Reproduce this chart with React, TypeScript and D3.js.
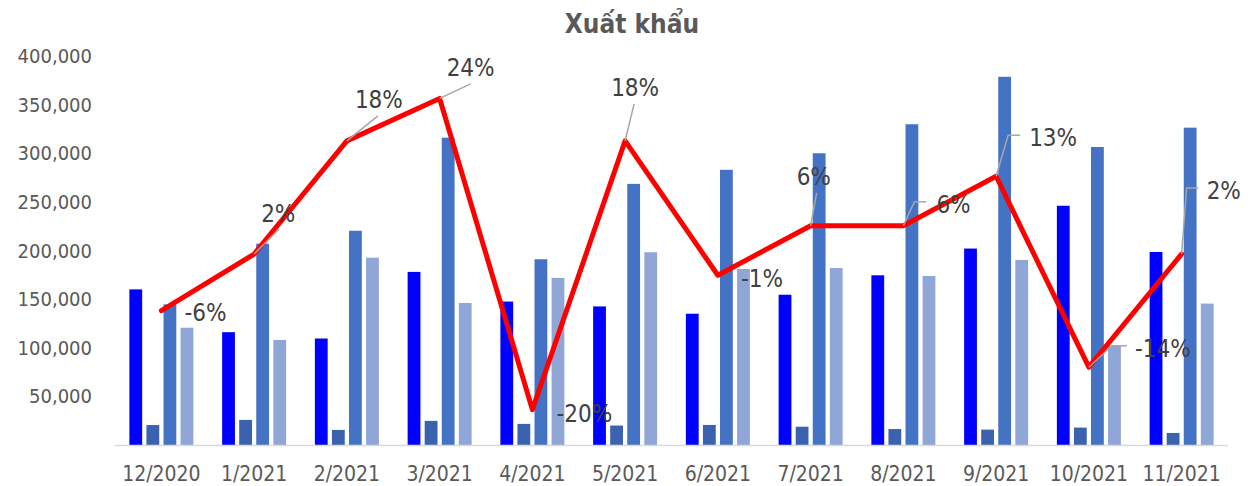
import React from "react";
import * as d3 from "d3";

const categories = ["12/2020", "1/2021", "2/2021", "3/2021", "4/2021", "5/2021", "6/2021", "7/2021", "8/2021", "9/2021", "10/2021", "11/2021"];
const seriesA = [160000, 116000, 109500, 178000, 147500, 142500, 135000, 154500, 174500, 202000, 246000, 198500];
const seriesB = [20500, 25800, 15500, 24800, 21700, 20000, 20600, 18800, 16400, 15800, 17900, 12400];
const seriesC = [144600, 207000, 220300, 316000, 191000, 268500, 283000, 300000, 329800, 378600, 306400, 326300];
const seriesD = [120600, 108000, 192600, 146000, 171800, 198200, 181000, 182000, 173800, 190300, 101800, 145400];
const growth = [-6, 2, 18, 24, -20, 18, -1, 6, 6, 13, -14, 2];
const growthLabels = ["-6%", "2%", "18%", "24%", "-20%", "18%", "-1%", "6%", "6%", "13%", "-14%", "2%"];
const yTicks = [50000, 100000, 150000, 200000, 250000, 300000, 350000, 400000];

// label placement offsets relative to line point: [dx, dy, leader points...]
const labelOffsets: { dx: number; dy: number; leader: [number, number][] }[] = [
  { dx: 23, dy: 10, leader: [] },
  { dx: 7, dy: -32, leader: [[25, -25]] },
  { dx: 8, dy: -33, leader: [[31, -25]] },
  { dx: 7, dy: -22, leader: [[31, -14.5]] },
  { dx: 24, dy: 12, leader: [] },
  { dx: -14, dy: -45, leader: [[9, -37]] },
  { dx: 23, dy: 12, leader: [] },
  { dx: -14, dy: -41, leader: [[6, -33]] },
  { dx: 33, dy: -13, leader: [[11, -24], [23, -24]] },
  { dx: 33, dy: -30, leader: [[12, -41], [24, -41]] },
  { dx: 46, dy: -10, leader: [[23, -21.5], [38, -21.5]] },
  { dx: 25, dy: -55, leader: [[5, -66], [16.5, -66]] },
];

const seriesList = [
  { key: "a", values: seriesA, color: "#0000FF" },
  { key: "b", values: seriesB, color: "#3A62AE" },
  { key: "c", values: seriesC, color: "#4472C4" },
  { key: "d", values: seriesD, color: "#8FA6D6" },
];

export default function App() {
  const W = 1260, H = 486;
  const left = 115, right = 1228, top = 56, bottom = 445;
  const x = d3.scaleBand<string>().domain(categories).range([left, right]).paddingInner(0.31).paddingOuter(0.155);
  const xs = d3.scaleBand<string>().domain(seriesList.map((s) => s.key)).range([0, x.bandwidth()]).paddingInner(0.25);
  const y = d3.scaleLinear().domain([0, 400000]).range([bottom, top]);
  const y2 = d3.scaleLinear().domain([-25, 30]).range([bottom, top]);
  const fmt = d3.format(",");
  const px = (i: number) => (x(categories[i]) as number) + x.bandwidth() / 2;
  const line = d3.line<number>().x((_, i) => px(i)).y((d) => y2(d));
  const font = "'DejaVu Sans Condensed', 'DejaVu Sans', sans-serif";

  return (
    <svg width={W} height={H} style={{ position: "absolute", left: 0, top: 0, background: "#fff" }} fontFamily={font}>
      <text x={632} y={33} textAnchor="middle" fontSize={26} fontWeight="bold" fill="#595959">
        Xuất khẩu
      </text>
      {yTicks.map((t) => (
        <text key={t} x={92} y={y(t) + 7} textAnchor="end" fontSize={20} fill="#595959" style={{ fontStretch: "condensed" }}>
          {fmt(t)}
        </text>
      ))}
      {categories.map((c) => (
        <text key={c} x={(x(c) as number) + x.bandwidth() / 2} y={481} textAnchor="middle" fontSize={21} fill="#595959" style={{ fontStretch: "condensed" }}>
          {c}
        </text>
      ))}
      {seriesList.map((s) => (
        <g key={s.key}>
          {s.values.map((v, i) => (
            <rect
              key={i}
              x={(x(categories[i]) as number) + (xs(s.key) as number)}
              y={y(v)}
              width={xs.bandwidth()}
              height={y(0) - y(v)}
              fill={s.color}
            />
          ))}
        </g>
      ))}
      <line x1={left} x2={right} y1={bottom + 0.5} y2={bottom + 0.5} stroke="#D9D9D9" strokeWidth={1.5} />
      <path d={line(growth) || ""} fill="none" stroke="#FF0000" strokeWidth={5} strokeLinejoin="round" strokeLinecap="round" />
      {growth.map((g, i) => {
        const cx = px(i), cy = y2(g);
        const o = labelOffsets[i];
        const pts: [number, number][] = [[cx, cy], ...o.leader.map(([a, b]) => [cx + a, cy + b] as [number, number])];
        return (
          <g key={i}>
            {o.leader.length > 0 && (
              <path d={d3.line()(pts) || ""} fill="none" stroke="#A6A6A6" strokeWidth={1.5} />
            )}
            <text x={cx + o.dx} y={cy + o.dy} fontSize={24} fill="#404040" style={{ fontStretch: "condensed" }}>
              {growthLabels[i]}
            </text>
          </g>
        );
      })}
    </svg>
  );
}
